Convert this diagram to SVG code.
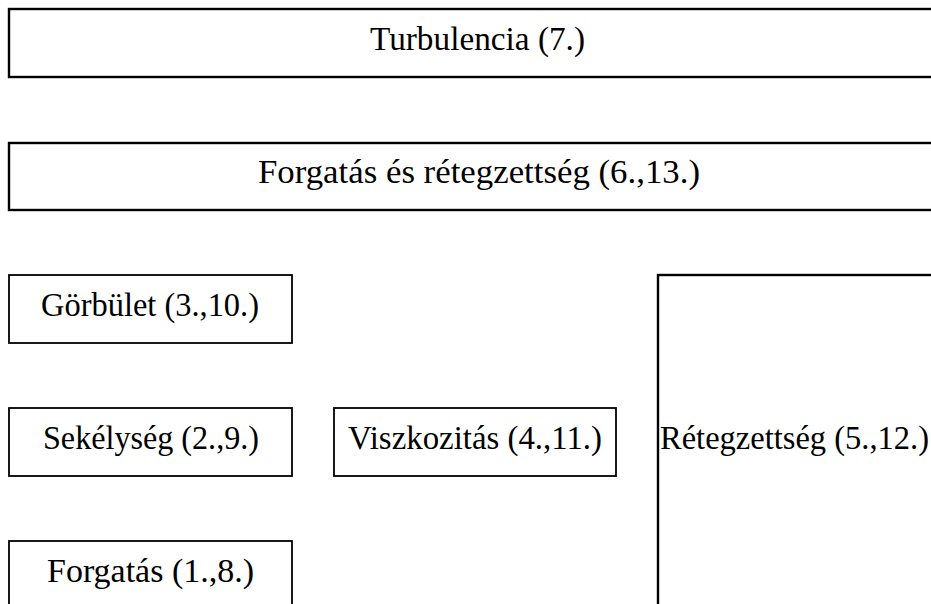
<svg xmlns="http://www.w3.org/2000/svg" width="931" height="604" viewBox="0 0 931 604">
<style>
.big{fill:#fff;stroke:#000;stroke-width:2.4}
.small{fill:#fff;stroke:#000;stroke-width:1.8}
text{font-family:"Liberation Serif","DejaVu Serif",serif;font-size:34px;fill:#000}
</style>
<rect x="0" y="0" width="931" height="604" fill="#fff"/>
<g id="turbulencia">
<rect class="big" x="9" y="9" width="940" height="68"/>
<text x="370" y="50" textLength="215" lengthAdjust="spacingAndGlyphs">Turbulencia (7.)</text>
</g>
<g id="forgatas-es-retegzettseg">
<rect class="big" x="9" y="143" width="940" height="67"/>
<text x="258" y="183" textLength="442" lengthAdjust="spacingAndGlyphs">Forgatás és rétegzettség (6.,13.)</text>
</g>
<g id="gorbulet">
<rect class="small" x="9" y="275" width="283" height="68"/>
<text x="41" y="316" textLength="218" lengthAdjust="spacingAndGlyphs">Görbület (3.,10.)</text>
</g>
<g id="sekelyseg">
<rect class="small" x="9" y="408" width="283" height="68"/>
<text x="43" y="449" textLength="216" lengthAdjust="spacingAndGlyphs">Sekélység (2.,9.)</text>
</g>
<g id="viszkozitas">
<rect class="small" x="334" y="408" width="282" height="68"/>
<text x="348" y="449" textLength="254" lengthAdjust="spacingAndGlyphs">Viszkozitás (4.,11.)</text>
</g>
<g id="forgatas">
<rect class="small" x="9" y="541" width="283" height="68"/>
<text x="47" y="582" textLength="207" lengthAdjust="spacingAndGlyphs">Forgatás (1.,8.)</text>
</g>
<g id="retegzettseg">
<rect class="big" x="658" y="275" width="300" height="400"/>
<text x="660" y="449" textLength="269" lengthAdjust="spacingAndGlyphs">Rétegzettség (5.,12.)</text>
</g>
<g id="connectors"></g>
</svg>
